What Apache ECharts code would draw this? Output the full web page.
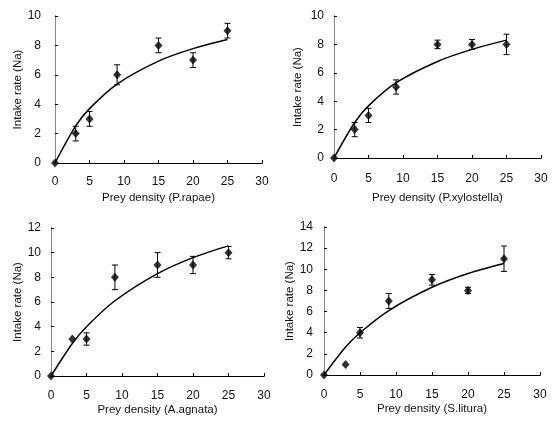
<!DOCTYPE html>
<html><head><meta charset="utf-8">
<script src="https://cdn.jsdelivr.net/npm/echarts@6/dist/echarts.min.js"></script>
<style>html,body{margin:0;padding:0;background:#fff}#c{width:553px;height:421px}</style>
</head><body><div id="c"></div>
<script>
const density = [0, 3, 5, 9, 15, 20, 25];
const xTicks = [0, 5, 10, 15, 20, 25, 30];

const titles = ['Prey density (P.rapae)', 'Prey density (P.xylostella)', 'Prey density (A.agnata)', 'Prey density (S.litura)'];
const yTitle = 'Intake rate (Na)';

const obsRapae = [0, 2, 3, 6, 8, 7, 9];
const errRapae = [0, 0.5, 0.5, 0.68, 0.5, 0.5, 0.5];
const fitRapae = [0, 2.52, 3.7, 5.37, 6.93, 7.78, 8.4];

const obsXylo = [0, 2, 3, 5, 8, 8, 8];
const errXylo = [0, 0.5, 0.5, 0.5, 0.3, 0.35, 0.72];
const fitXylo = [0, 2.5, 3.67, 5.3, 6.8, 7.65, 8.3];

const obsAgnata = [0, 3, 3, 8, 9, 9, 10];
const errAgnata = [0, 0, 0.5, 1, 1, 0.7, 0.5];
const fitAgnata = [0, 2.64, 4.0, 6.1, 8.3, 9.6, 10.55];

const obsLitura = [0, 1, 4, 7, 9, 8, 11];
const errLitura = [0, 0, 0.5, 0.7, 0.5, 0.3, 1.2];
const fitLitura = [0, 2.64, 4.0, 6.1, 8.3, 9.6, 10.55];

const yMax = [10, 10, 12, 14];

const panels = [
  {obs: obsRapae, err: errRapae, fit: fitRapae, grid: {left: 55, top: 16, width: 207, height: 147}, lblMargin: 13, nameGap: 29, yLblMargin: 14, yNameGap: 29},
  {obs: obsXylo, err: errXylo, fit: fitXylo, grid: {left: 334, top: 16, width: 207, height: 142}, lblMargin: 15, nameGap: 34, yLblMargin: 10, yNameGap: 30},
  {obs: obsAgnata, err: errAgnata, fit: fitAgnata, grid: {left: 51, top: 228, width: 213, height: 148}, lblMargin: 14, nameGap: 28, yLblMargin: 10, yNameGap: 26},
  {obs: obsLitura, err: errLitura, fit: fitLitura, grid: {left: 324, top: 227, width: 216, height: 148}, lblMargin: 14, nameGap: 28, yLblMargin: 11, yNameGap: 28}
];

const FONT = 'Liberation Sans';
const grid = [], xAxis = [], yAxis = [], series = [];
panels.forEach((p, i) => {
  grid.push(Object.assign({containLabel: false}, p.grid));
  xAxis.push({
    type: 'value', gridIndex: i, min: 0, max: 30, interval: 5,
    name: titles[i], nameLocation: 'middle', nameGap: p.nameGap,
    nameTextStyle: {fontFamily: FONT, fontSize: 11.5, color: '#111'},
    axisLine: {show: true, onZero: false, lineStyle: {color: '#000', width: 1}},
    axisTick: {show: true, inside: true, length: 3, lineStyle: {color: '#000'}},
    axisLabel: {fontFamily: FONT, fontSize: 12, color: '#111', margin: p.lblMargin},
    splitLine: {show: false}
  });
  xAxis.push({
    type: 'value', gridIndex: i, min: 0, max: 30, position: 'top',
    axisLine: {show: true, lineStyle: {color: '#000', width: 1}},
    axisTick: {show: false}, axisLabel: {show: false}, splitLine: {show: false}
  });
  yAxis.push({
    type: 'value', gridIndex: i, min: 0, max: yMax[i], interval: 2,
    name: yTitle, nameLocation: 'middle', nameGap: p.yNameGap, nameRotate: 90,
    nameTextStyle: {fontFamily: FONT, fontSize: 11.5, color: '#111'},
    axisLine: {show: true, onZero: false, lineStyle: {color: '#000', width: 1}},
    axisTick: {show: true, inside: true, length: 3, lineStyle: {color: '#000'}},
    axisLabel: {fontFamily: FONT, fontSize: 12, color: '#111', margin: p.yLblMargin},
    splitLine: {show: false}
  });
  yAxis.push({
    type: 'value', gridIndex: i, min: 0, max: yMax[i], position: 'right',
    axisLine: {show: true, lineStyle: {color: '#888', width: 1}},
    axisTick: {show: false}, axisLabel: {show: false}, splitLine: {show: false}
  });
  const xi = 2 * i, yi = 2 * i;
  series.push({
    type: 'line', xAxisIndex: xi, yAxisIndex: yi, smooth: 0.3,
    data: density.map((d, k) => [d, p.fit[k]]),
    showSymbol: false, symbol: 'none',
    lineStyle: {color: '#000', width: 1.5}, z: 2, animation: false
  });
  series.push({
    type: 'custom', xAxisIndex: xi, yAxisIndex: yi,
    data: density.map((d, k) => [d, p.obs[k], p.err[k]]),
    renderItem: function (params, api) {
      const x = api.value(0), y = api.value(1), e = api.value(2);
      if (!e) return null;
      const hi = api.coord([x, y + e]);
      const lo = api.coord([x, y - e]);
      const w = 3;
      const st = {stroke: '#000', lineWidth: 1};
      return {type: 'group', children: [
        {type: 'line', shape: {x1: hi[0], y1: hi[1], x2: lo[0], y2: lo[1]}, style: st},
        {type: 'line', shape: {x1: hi[0] - w, y1: hi[1], x2: hi[0] + w, y2: hi[1]}, style: st},
        {type: 'line', shape: {x1: lo[0] - w, y1: lo[1], x2: lo[0] + w, y2: lo[1]}, style: st}
      ]};
    },
    z: 3, animation: false
  });
  series.push({
    type: 'scatter', xAxisIndex: xi, yAxisIndex: yi,
    data: density.map((d, k) => [d, p.obs[k]]),
    symbol: 'diamond', symbolSize: [8, 9],
    itemStyle: {color: '#000'}, z: 4, animation: false
  });
});

const chart = echarts.init(document.getElementById('c'), null, {renderer: 'canvas'});
chart.setOption({animation: false, backgroundColor: '#fff', grid, xAxis, yAxis, series});
</script></body></html>
